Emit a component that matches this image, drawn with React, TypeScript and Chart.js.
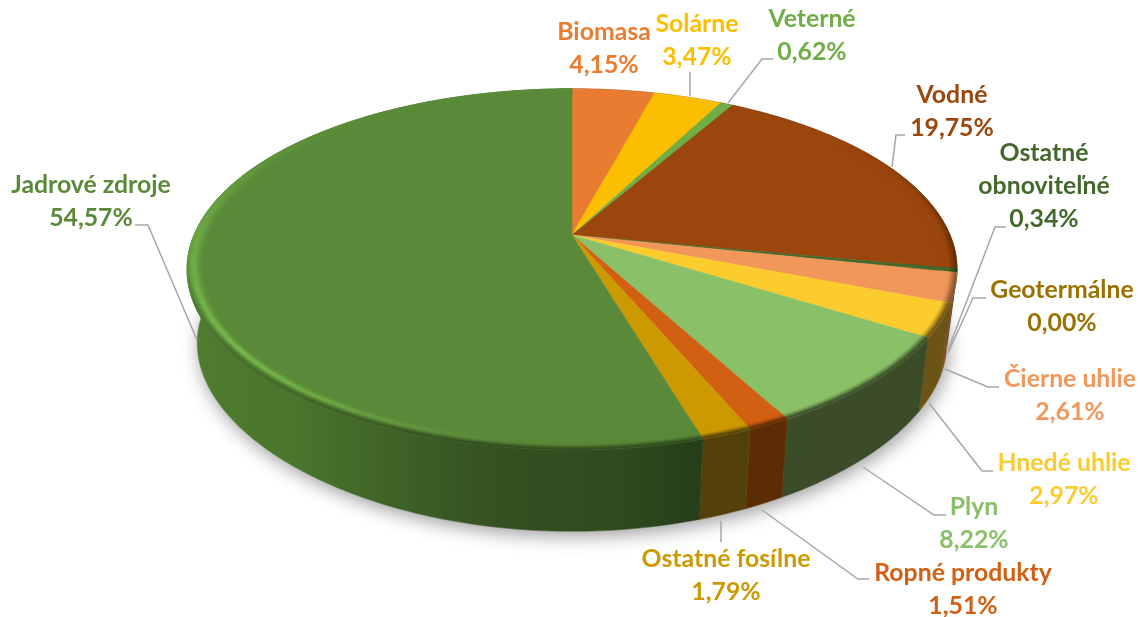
import React, { useEffect, useRef } from "react";
import { Chart, ArcElement, PieController } from "chart.js";

// ---------- data ----------
const categories = ["Biomasa", "Solárne", "Veterné", "Vodné", "Ostatné\nobnoviteľné", "Geotermálne", "Čierne uhlie", "Hnedé uhlie", "Plyn", "Ropné produkty", "Ostatné fosílne", "Jadrové zdroje"];
const shares = [4.15, 3.47, 0.62, 19.75, 0.34, 0.0, 2.61, 2.97, 8.22, 1.51, 1.79, 54.57];
const faceColors = ["#EA7C32", "#FBBE00", "#70AD47", "#9A460C", "#43682B", "#997300", "#F1975A", "#FCCB2E", "#8AC068", "#D26012", "#CC9900", "#5A8A39"];
const wallColors = ["#6e3a17", "#7a5c00", "#3a5a24", "#5a2806", "#26401a", "#4f3c00", "#80502c", "#6B5416", "#3A4C28", "#5C2C05", "#54400A", "#2F4A1D"];

// label centres and leader polylines (annotation layout)
const labelCenters: [number, number][] = [[604, 32], [697, 24], [812, 19], [952, 95], [1044, 153], [1062, 290], [1070, 379], [1064, 463], [974, 507], [963, 573], [726, 559], [91, 185]];
const leaders: ([number, number][] | null)[] = [
  null,
  [[690, 72], [690, 96]],
  [[773, 59], [762, 59], [728, 103]],
  [[905, 135], [896, 135], [892, 167]],
  [[1006, 227], [995, 227], [948, 350]],
  [[986, 298], [973, 298], [948, 353]],
  [[999, 387], [988, 387], [945, 369]],
  [[993, 471], [982, 471], [929, 403]],
  [[946, 515], [934, 515], [863, 467]],
  [[869, 579], [858, 579], [762, 510]],
  [[721, 542], [721, 521]],
  [[135, 225], [148, 225], [197, 340]],
];

// ---------- projection ----------
const CX = 572;
function topPt(theta: number, r = 1): [number, number] {
  const u = r * Math.sin(theta), v = -r * Math.cos(theta);
  const s = 1 / (1 - 0.19 * v);
  return [CX + 378 * u * s, 235 + 174 * v * s];
}
function basePt(theta: number): [number, number] {
  const u = Math.sin(theta), v = -Math.cos(theta);
  return [CX + 368 * u / (1 - 0.19 * v), 310 + 166 * v / (1 - 0.25 * v)];
}
const hex = (c: string) => [1, 3, 5].map((i) => parseInt(c.slice(i, i + 2), 16));
const mix = (a: number[], b: number[], w: number) => a.map((x, i) => x + (b[i] - x) * w);
const css = (c: number[]) => `rgb(${c.map((x) => Math.max(0, Math.min(255, Math.round(x)))).join(",")})`;
const smooth = (a: number, b: number, x: number) => {
  const t = Math.max(0, Math.min(1, (x - a) / (b - a)));
  return t * t * (3 - 2 * t);
};
const STEP = Math.PI / 180;
function angles(a: number, b: number) {
  const out: number[] = [];
  const n = Math.max(1, Math.ceil((b - a) / STEP));
  for (let i = 0; i <= n; i++) out.push(a + ((b - a) * i) / n);
  return out;
}

class Arc3D extends ArcElement {
  static id = "arc3d";
  static defaults = ArcElement.defaults;
  draw(ctx: CanvasRenderingContext2D) {
    const a = this.startAngle + Math.PI / 2, b = this.endAngle + Math.PI / 2;
    if (b - a < 1e-5) return;
    const idx = this.$context.dataIndex;
    const face = hex(faceColors[idx]), wall = hex(wallColors[idx]);
    const ts = angles(a, b);
    ctx.save();
    ctx.fillStyle = faceColors[idx];
    ctx.strokeStyle = faceColors[idx];
    ctx.lineWidth = 0.5;
    ctx.beginPath();
    ctx.moveTo(CX, 235);
    ts.forEach((t) => ctx.lineTo(...topPt(t)));
    ctx.closePath();
    ctx.fill();
    ctx.stroke();
    // bevel
    const N = 10, R0 = 0.955;
    for (let k = 0; k < ts.length - 1; k++) {
      const t0 = ts[k], t1 = ts[k + 1];
      const deg = ((t0 + t1) / 2) * 180 / Math.PI;
      const H = smooth(185, 232, deg) * (1 - smooth(235, 325, deg) * 0.95);
      const D = smooth(50, 115, deg) * (1 - smooth(225, 272, deg));
      const Dw = Math.max(0.5, 1 - smooth(185, 240, deg) * 0.6) * D;
      const centre = 0.48 + 0.32 * smooth(230, 285, deg);
      const width = 0.2 + 0.22 * smooth(230, 285, deg);
      if (H + Dw < 0.01) continue;
      for (let j = 0; j < N; j++) {
        const f = (j + 0.5) / N;
        const r0 = R0 + ((1 - R0) * j) / N, r1 = R0 + ((1 - R0) * (j + 1)) / N;
        const hl = H * Math.exp(-(((f - centre) / width) ** 2)) * 0.75;
        let c = mix(face, face.map((x) => x * 1.45), hl);
        c = mix(c, wall, smooth(0.5, 1, f) * Dw);
        ctx.fillStyle = css(c);
        ctx.strokeStyle = ctx.fillStyle;
        ctx.beginPath();
        ctx.moveTo(...topPt(t0, r0));
        ctx.lineTo(...topPt(t1, r0));
        ctx.lineTo(...topPt(t1, r1));
        ctx.lineTo(...topPt(t0, r1));
        ctx.closePath();
        ctx.fill();
        ctx.stroke();
      }
    }
    ctx.restore();
  }
  drawWall(ctx: CanvasRenderingContext2D) {
    const a = this.startAngle + Math.PI / 2, b = this.endAngle + Math.PI / 2;
    if (b - a < 1e-5) return;
    const idx = this.$context.dataIndex;
    const ts = angles(a, b);
    ctx.save();
    if (b > Math.PI * 1.5) {
      const g = ctx.createLinearGradient(195, 0, 700, 0);
      g.addColorStop(0, "#4F7C30");
      g.addColorStop(0.2, "#4A752C");
      g.addColorStop(0.42, "#3D6026");
      g.addColorStop(0.62, "#344F20");
      g.addColorStop(0.85, "#2F4A1D");
      g.addColorStop(1, "#263E19");
      ctx.fillStyle = g;
      ctx.strokeStyle = g;
    } else {
      ctx.fillStyle = wallColors[idx];
      ctx.strokeStyle = wallColors[idx];
    }
    ctx.lineWidth = 0.5;
    ctx.beginPath();
    ts.forEach((t, i) => (i ? ctx.lineTo(...topPt(t)) : ctx.moveTo(...topPt(t))));
    ts.slice().reverse().forEach((t) => ctx.lineTo(...basePt(t)));
    ctx.closePath();
    ctx.fill();
    ctx.stroke();
    ctx.restore();
  }
}

class Pie3DController extends PieController {
  static id = "pie3d";
  static defaults = { dataElementType: "arc3d" };
  draw() {
    const ctx = this.chart.ctx;
    const arcs = this._cachedMeta.data as unknown as Arc3D[];
    // soft cast shadow under the base
    ctx.save();
    ctx.shadowColor = "rgba(0,0,0,0.38)";
    ctx.shadowBlur = 18;
    ctx.shadowOffsetX = 2;
    ctx.shadowOffsetY = 5;
    ctx.fillStyle = "#fff";
    ctx.beginPath();
    arcs.forEach((arc) => {
      angles(arc.startAngle + Math.PI / 2, arc.endAngle + Math.PI / 2).forEach((t) => ctx.lineTo(...basePt(t)));
    });
    ctx.closePath();
    ctx.fill();
    ctx.restore();
    arcs.forEach((arc) => arc.drawWall(ctx));
    super.draw();
  }
}

const labelPlugin = {
  id: "calloutLabels",
  afterDraw(chart: Chart) {
    const ctx = chart.ctx;
    ctx.save();
    ctx.strokeStyle = "#A6A6A6";
    ctx.lineWidth = 1.5;
    leaders.forEach((pts) => {
      if (!pts) return;
      ctx.beginPath();
      pts.forEach(([x, y], i) => (i ? ctx.lineTo(x, y) : ctx.moveTo(x, y)));
      ctx.stroke();
    });
    ctx.font = "700 24.8px Lato";
    ctx.textAlign = "center";
    ctx.textBaseline = "middle";
    categories.forEach((cat, i) => {
      const [x, y] = labelCenters[i];
      const lines = [...cat.split("\n"), shares[i].toFixed(2).replace(".", ",") + "%"];
      ctx.fillStyle = faceColors[i];
      lines.forEach((ln, k) => ctx.fillText(ln, x, y + k * 33));
    });
    ctx.restore();
  },
};

Chart.register(ArcElement, PieController, Arc3D, Pie3DController);

export default function App() {
  const ref = useRef<HTMLCanvasElement>(null);
  useEffect(() => {
    const chart = new Chart(ref.current!, {
      type: "pie3d" as any,
      data: {
        labels: categories,
        datasets: [{ data: shares, backgroundColor: faceColors, borderWidth: 0 }],
      },
      options: {
        responsive: false,
        animation: false,
        events: [],
        layout: { padding: 0 },
        plugins: { legend: { display: false }, tooltip: { enabled: false } },
      },
      plugins: [labelPlugin],
    } as any);
    return () => chart.destroy();
  }, []);
  return (
    <div style={{ position: "fixed", left: 0, top: 0, width: 1140, height: 617, background: "#fff" }}>
      <canvas ref={ref} width={1140} height={617} style={{ display: "block" }} />
    </div>
  );
}
